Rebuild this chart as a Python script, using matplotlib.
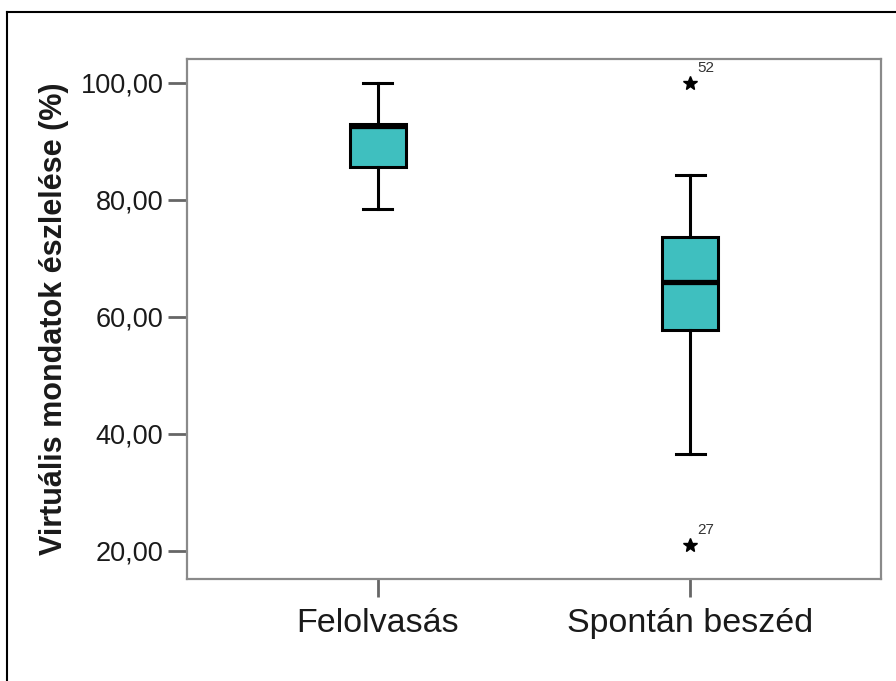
import matplotlib.pyplot as plt
from matplotlib.lines import Line2D

plt.rcParams['font.family'] = ['Liberation Sans', 'DejaVu Sans']

# Box plot summary values
categories = ['Felolvasás', 'Spontán beszéd']
whislo = [78.5, 36.5]
q1 = [85.6, 57.8]
med = [92.7, 65.9]
q3 = [93.0, 73.6]
whishi = [100.0, 84.2]
fliers = [[], [100.0, 21.0]]
flier_ids = [[], ['52', '27']]
yticks = [20, 40, 60, 80, 100]

stats = []
for i in range(len(categories)):
    stats.append(dict(label=categories[i], whislo=whislo[i], q1=q1[i], med=med[i],
                      q3=q3[i], whishi=whishi[i], fliers=fliers[i]))

fig = plt.figure(figsize=(8.96, 6.81), dpi=100)
ax = fig.add_axes([187 / 896, 1 - 579 / 681, (881 - 187) / 896, (579 - 59) / 681])

ax.bxp(stats, positions=[1, 2], widths=0.18, capwidths=0.093, patch_artist=True,
       boxprops=dict(facecolor='#3fbfbf', edgecolor='black', linewidth=2.2),
       medianprops=dict(color='black', linewidth=3.8),
       whiskerprops=dict(color='black', linewidth=2.2),
       capprops=dict(color='black', linewidth=2.2),
       flierprops=dict(marker='*', markersize=10, markerfacecolor='black',
                       markeredgecolor='black'))

# case numbers next to the extreme values
for i in range(len(categories)):
    for v, lab in zip(fliers[i], flier_ids[i]):
        ax.annotate(lab, (i + 1, v), xytext=(5, 6), textcoords='offset points',
                    fontsize=11, color='#333333', ha='left', va='bottom')

ax.set_xlim(0.388, 2.612)
ax.set_ylim(15.2, 104.1)
ax.set_yticks(yticks)
ax.set_yticklabels([f'{t},00' for t in yticks])
ax.set_xticks([1, 2])
ax.set_xticklabels(categories)
ax.tick_params(axis='y', length=14, width=2, color='#666666', labelsize=19.5,
               labelcolor='#1a1a1a', pad=3)
ax.tick_params(axis='x', length=13, width=2, color='#666666', labelsize=24.5,
               labelcolor='#1a1a1a', pad=8)
for s in ax.spines.values():
    s.set_color('#8a8a8a')
    s.set_linewidth(1.6)

ax.set_ylabel('Virtuális mondatok észlelése (%)', fontsize=22, fontweight='bold',
              color='#1a1a1a', labelpad=8)

# outer frame of the figure box
x0 = 7 / 896
y0 = 1 - 12 / 681
fig.add_artist(Line2D([x0, x0], [0, y0], color='black', linewidth=1.5))
fig.add_artist(Line2D([x0, 1], [y0, y0], color='black', linewidth=1.5))

fig.savefig('out.png', dpi=100)
